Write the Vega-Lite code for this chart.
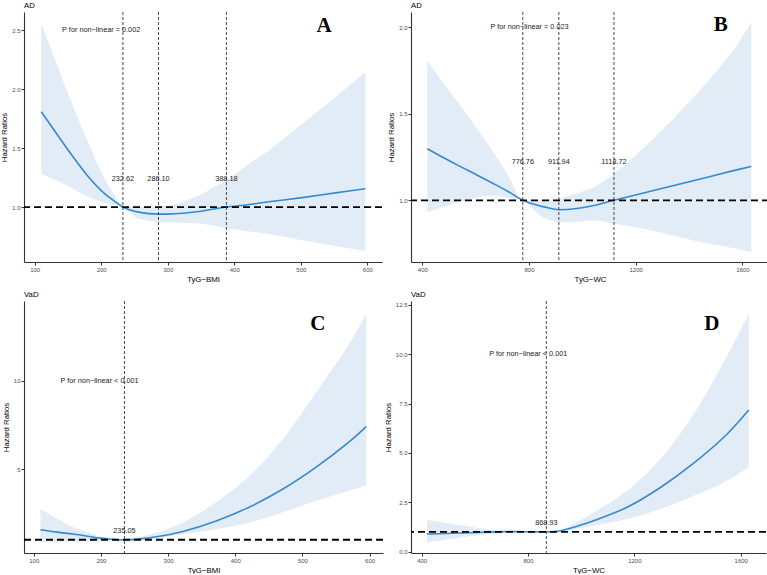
{
  "$schema": "https://vega.github.io/schema/vega-lite/v6.json",
  "background": "white",
  "padding": {"left": 0, "top": 1, "right": 0, "bottom": 0},
  "config": {
    "view": {"stroke": null},
    "font": "Liberation Sans",
    "axis": {
      "grid": false,
      "domainColor": "#333333",
      "domainWidth": 1.1,
      "tickColor": "#333333",
      "tickSize": 3,
      "labelFont": "Liberation Sans",
      "titleFont": "Liberation Sans",
      "labelFontSize": 6,
      "labelColor": "#4d4d4d",
      "labelPadding": 1,
      "titleFontSize": 7.8,
      "titleFontWeight": "normal",
      "titleColor": "black",
      "titlePadding": 3
    },
    "title": {"anchor": "start", "frame": "group", "fontSize": 7.8, "fontWeight": "normal", "font": "Liberation Sans", "offset": 2, "color": "black"}
  },
  "datasets": {
    "A": [
      {"x": 110, "hr": 1.81, "lo": 1.28, "hi": 2.56},
      {"x": 131, "hr": 1.64, "lo": 1.23, "hi": 2.25},
      {"x": 156, "hr": 1.44, "lo": 1.16, "hi": 1.88},
      {"x": 181, "hr": 1.255, "lo": 1.085, "hi": 1.54},
      {"x": 206, "hr": 1.11, "lo": 1.035, "hi": 1.23},
      {"x": 220, "hr": 1.05, "lo": 1.015, "hi": 1.1},
      {"x": 232.62, "hr": 1.0, "lo": 1.0, "hi": 1.0},
      {"x": 256, "hr": 0.957, "lo": 0.9, "hi": 1.0},
      {"x": 286.1, "hr": 0.94, "lo": 0.873, "hi": 1.005},
      {"x": 306, "hr": 0.942, "lo": 0.87, "hi": 1.015},
      {"x": 330, "hr": 0.952, "lo": 0.865, "hi": 1.06},
      {"x": 352, "hr": 0.966, "lo": 0.858, "hi": 1.113},
      {"x": 370, "hr": 0.984, "lo": 0.84, "hi": 1.17},
      {"x": 388.18, "hr": 1.0, "lo": 0.82, "hi": 1.227},
      {"x": 420, "hr": 1.02, "lo": 0.795, "hi": 1.36},
      {"x": 452, "hr": 1.045, "lo": 0.77, "hi": 1.48},
      {"x": 502, "hr": 1.08, "lo": 0.717, "hi": 1.708},
      {"x": 552, "hr": 1.12, "lo": 0.67, "hi": 1.935},
      {"x": 597, "hr": 1.156, "lo": 0.626, "hi": 2.147}
    ],
    "B": [
      {"x": 418.8, "hr": 1.298, "lo": 0.929, "hi": 1.808},
      {"x": 475, "hr": 1.25, "lo": 0.961, "hi": 1.683},
      {"x": 537.6, "hr": 1.199, "lo": 0.99, "hi": 1.557},
      {"x": 600, "hr": 1.15, "lo": 1.015, "hi": 1.423},
      {"x": 662.5, "hr": 1.1, "lo": 1.027, "hi": 1.288},
      {"x": 725, "hr": 1.048, "lo": 1.015, "hi": 1.134},
      {"x": 776.76, "hr": 1.0, "lo": 1.0, "hi": 1.0},
      {"x": 850, "hr": 0.965, "lo": 0.904, "hi": 1.0},
      {"x": 911.94, "hr": 0.946, "lo": 0.875, "hi": 1.01},
      {"x": 980, "hr": 0.953, "lo": 0.875, "hi": 1.04},
      {"x": 1044, "hr": 0.97, "lo": 0.885, "hi": 1.077},
      {"x": 1118.72, "hr": 1.0, "lo": 0.865, "hi": 1.154},
      {"x": 1234, "hr": 1.044, "lo": 0.835, "hi": 1.308},
      {"x": 1359, "hr": 1.091, "lo": 0.79, "hi": 1.5},
      {"x": 1484, "hr": 1.139, "lo": 0.746, "hi": 1.711},
      {"x": 1563, "hr": 1.17, "lo": 0.725, "hi": 1.86},
      {"x": 1633.7, "hr": 1.196, "lo": 0.702, "hi": 2.029}
    ],
    "C": [
      {"x": 110, "hr": 1.566, "lo": 0.85, "hi": 2.74},
      {"x": 135, "hr": 1.43, "lo": 0.88, "hi": 2.2},
      {"x": 158.6, "hr": 1.32, "lo": 0.91, "hi": 1.7},
      {"x": 180, "hr": 1.2, "lo": 0.94, "hi": 1.42},
      {"x": 198, "hr": 1.09, "lo": 0.97, "hi": 1.2},
      {"x": 215, "hr": 1.03, "lo": 0.985, "hi": 1.08},
      {"x": 235.05, "hr": 1.0, "lo": 1.0, "hi": 1.0},
      {"x": 258, "hr": 1.05, "lo": 0.98, "hi": 1.16},
      {"x": 282.5, "hr": 1.17, "lo": 1.05, "hi": 1.4},
      {"x": 322, "hr": 1.47, "lo": 1.32, "hi": 1.98},
      {"x": 371.7, "hr": 2.06, "lo": 1.6, "hi": 3.12},
      {"x": 421.4, "hr": 2.855, "lo": 1.98, "hi": 4.62},
      {"x": 471, "hr": 3.87, "lo": 2.55, "hi": 6.7},
      {"x": 520.5, "hr": 5.11, "lo": 3.2, "hi": 9.34},
      {"x": 570, "hr": 6.55, "lo": 3.77, "hi": 12.1},
      {"x": 595, "hr": 7.4, "lo": 4.06, "hi": 13.77}
    ],
    "D": [
      {"x": 420.7, "hr": 0.896, "lo": 0.475, "hi": 1.6},
      {"x": 490, "hr": 0.92, "lo": 0.6, "hi": 1.45},
      {"x": 553, "hr": 0.95, "lo": 0.73, "hi": 1.32},
      {"x": 610, "hr": 0.975, "lo": 0.82, "hi": 1.2},
      {"x": 663, "hr": 1.0, "lo": 0.9, "hi": 1.1},
      {"x": 725.7, "hr": 1.02, "lo": 0.95, "hi": 1.05},
      {"x": 790, "hr": 1.01, "lo": 0.98, "hi": 1.02},
      {"x": 868.93, "hr": 1.0, "lo": 1.0, "hi": 1.0},
      {"x": 921.5, "hr": 1.06, "lo": 1.02, "hi": 1.1},
      {"x": 984, "hr": 1.29, "lo": 1.16, "hi": 1.5},
      {"x": 1047, "hr": 1.57, "lo": 1.32, "hi": 1.99},
      {"x": 1172.5, "hr": 2.25, "lo": 1.65, "hi": 3.09},
      {"x": 1298, "hr": 3.25, "lo": 2.16, "hi": 4.69},
      {"x": 1423, "hr": 4.48, "lo": 2.83, "hi": 6.97},
      {"x": 1549, "hr": 5.96, "lo": 3.59, "hi": 9.92},
      {"x": 1630, "hr": 7.17, "lo": 4.27, "hi": 12.03}
    ]
  },
  "spacing": 7,
  "vconcat": [
    {
      "spacing": 4,
      "hconcat": [
        {
          "width": 358, "height": 250,
          "title": "AD",
          "layer": [
            {
              "data": {"name": "A"},
              "mark": {"type": "area", "color": "#e2ecf7", "interpolate": "monotone"},
              "encoding": {
                "x": {"field": "x", "type": "quantitative", "scale": {"domain": [84, 622], "nice": false, "zero": false}, "axis": {"title": "TyG−BMI", "values": [100, 200, 300, 400, 500, 600], "format": "d"}},
                "y": {"field": "lo", "type": "quantitative", "scale": {"domain": [0.533, 2.657], "nice": false, "zero": false}, "axis": {"title": "Hazard Ratios", "values": [1, 1.5, 2, 2.5], "format": ".1f"}},
                "y2": {"field": "hi"}
              }
            },
            {
              "data": {"name": "A"},
              "mark": {"type": "line", "color": "#3489cf", "strokeWidth": 1.6, "interpolate": "monotone"},
              "encoding": {"x": {"field": "x", "type": "quantitative"}, "y": {"field": "hr", "type": "quantitative"}}
            },
            {
              "data": {"values": [{}]},
              "mark": {"type": "rule", "color": "black", "strokeWidth": 1.8, "strokeDash": [7, 4]},
              "encoding": {"y": {"datum": 1}}
            },
            {
              "data": {"values": [{"x": 232.62, "label": "232.62"}, {"x": 286.10, "label": "286.10"}, {"x": 388.18, "label": "388.18"}]},
              "layer": [
                {"mark": {"type": "rule", "color": "#333333", "strokeWidth": 0.9, "strokeDash": [3, 2]}, "encoding": {"x": {"field": "x", "type": "quantitative"}}},
                {"mark": {"type": "text", "fontSize": 7.3, "color": "#222222"}, "encoding": {"x": {"field": "x", "type": "quantitative"}, "y": {"datum": 1.24}, "text": {"field": "label"}}}
              ]
            },
            {
              "data": {"values": [{"t": "P for non−linear = 0.002"}]},
              "mark": {"type": "text", "fontSize": 7.3, "color": "#222222"},
              "encoding": {"x": {"datum": 200}, "y": {"datum": 2.5}, "text": {"field": "t"}}
            },
            {
              "data": {"values": [{"t": "A"}]},
              "mark": {"type": "text", "fontSize": 21, "font": "Liberation Serif", "fontWeight": "bold", "color": "black"},
              "encoding": {"x": {"datum": 535}, "y": {"datum": 2.54}, "text": {"field": "t"}}
            }
          ]
        },
        {
          "width": 358, "height": 250,
          "title": "AD",
          "layer": [
            {
              "data": {"name": "B"},
              "mark": {"type": "area", "color": "#e2ecf7", "interpolate": "monotone"},
              "encoding": {
                "x": {"field": "x", "type": "quantitative", "scale": {"domain": [357.6, 1700], "nice": false, "zero": false}, "axis": {"title": "TyG−WC", "values": [400, 800, 1200, 1600], "format": "d"}},
                "y": {"field": "lo", "type": "quantitative", "scale": {"domain": [0.644, 2.087], "nice": false, "zero": false}, "axis": {"title": "Hazard Ratios", "values": [1, 1.5, 2], "format": ".1f"}},
                "y2": {"field": "hi"}
              }
            },
            {
              "data": {"name": "B"},
              "mark": {"type": "line", "color": "#3489cf", "strokeWidth": 1.6, "interpolate": "monotone"},
              "encoding": {"x": {"field": "x", "type": "quantitative"}, "y": {"field": "hr", "type": "quantitative"}}
            },
            {
              "data": {"values": [{}]},
              "mark": {"type": "rule", "color": "black", "strokeWidth": 1.8, "strokeDash": [7, 4]},
              "encoding": {"y": {"datum": 1}}
            },
            {
              "data": {"values": [{"x": 776.76, "label": "776.76"}, {"x": 911.94, "label": "911.94"}, {"x": 1118.72, "label": "1118.72"}]},
              "layer": [
                {"mark": {"type": "rule", "color": "#333333", "strokeWidth": 0.9, "strokeDash": [3, 2]}, "encoding": {"x": {"field": "x", "type": "quantitative"}}},
                {"mark": {"type": "text", "fontSize": 7.3, "color": "#222222"}, "encoding": {"x": {"field": "x", "type": "quantitative"}, "y": {"datum": 1.221}, "text": {"field": "label"}}}
              ]
            },
            {
              "data": {"values": [{"t": "P for non−linear = 0.023"}]},
              "mark": {"type": "text", "fontSize": 7.3, "color": "#222222"},
              "encoding": {"x": {"datum": 802}, "y": {"datum": 2.0}, "text": {"field": "t"}}
            },
            {
              "data": {"values": [{"t": "B"}]},
              "mark": {"type": "text", "fontSize": 21, "font": "Liberation Serif", "fontWeight": "bold", "color": "black"},
              "encoding": {"x": {"datum": 1519}, "y": {"datum": 2.01}, "text": {"field": "t"}}
            }
          ]
        }
      ]
    },
    {
      "spacing": 0,
      "hconcat": [
        {
          "width": 359, "height": 252,
          "title": "VaD",
          "layer": [
            {
              "data": {"name": "C"},
              "mark": {"type": "area", "color": "#e2ecf7", "interpolate": "catmull-rom"},
              "encoding": {
                "x": {"field": "x", "type": "quantitative", "scale": {"domain": [85.5, 620], "nice": false, "zero": false}, "axis": {"title": "TyG−BMI", "values": [100, 200, 300, 400, 500, 600], "format": "d"}},
                "y": {"field": "lo", "type": "quantitative", "scale": {"domain": [0.25, 14.5], "nice": false, "zero": false}, "axis": {"title": "Hazard Ratios", "values": [5, 10], "format": "d"}},
                "y2": {"field": "hi"}
              }
            },
            {
              "data": {"name": "C"},
              "mark": {"type": "line", "color": "#3489cf", "strokeWidth": 1.6, "interpolate": "catmull-rom"},
              "encoding": {"x": {"field": "x", "type": "quantitative"}, "y": {"field": "hr", "type": "quantitative"}}
            },
            {
              "data": {"values": [{}]},
              "mark": {"type": "rule", "color": "black", "strokeWidth": 1.8, "strokeDash": [7, 4]},
              "encoding": {"y": {"datum": 1}}
            },
            {
              "data": {"values": [{"x": 235.05, "label": "235.05"}]},
              "layer": [
                {"mark": {"type": "rule", "color": "#333333", "strokeWidth": 0.9, "strokeDash": [3, 2]}, "encoding": {"x": {"field": "x", "type": "quantitative"}}},
                {"mark": {"type": "text", "fontSize": 7.3, "color": "#222222"}, "encoding": {"x": {"field": "x", "type": "quantitative"}, "y": {"datum": 1.47}, "text": {"field": "label"}}}
              ]
            },
            {
              "data": {"values": [{"t": "P for non−linear < 0.001"}]},
              "mark": {"type": "text", "fontSize": 7.3, "color": "#222222"},
              "encoding": {"x": {"datum": 198}, "y": {"datum": 10}, "text": {"field": "t"}}
            },
            {
              "data": {"values": [{"t": "C"}]},
              "mark": {"type": "text", "fontSize": 21, "font": "Liberation Serif", "fontWeight": "bold", "color": "black"},
              "encoding": {"x": {"datum": 523}, "y": {"datum": 13.2}, "text": {"field": "t"}}
            }
          ]
        },
        {
          "width": 355, "height": 252,
          "title": "VaD",
          "layer": [
            {
              "data": {"name": "D"},
              "mark": {"type": "area", "color": "#e2ecf7", "interpolate": "catmull-rom"},
              "encoding": {
                "x": {"field": "x", "type": "quantitative", "scale": {"domain": [360, 1695], "nice": false, "zero": false}, "axis": {"title": "TyG−WC", "values": [400, 800, 1200, 1600], "format": "d"}},
                "y": {"field": "lo", "type": "quantitative", "scale": {"domain": [-0.066, 12.69], "nice": false, "zero": false}, "axis": {"title": "Hazard Ratios", "values": [0, 2.5, 5, 7.5, 10, 12.5], "format": ".1f"}},
                "y2": {"field": "hi"}
              }
            },
            {
              "data": {"name": "D"},
              "mark": {"type": "line", "color": "#3489cf", "strokeWidth": 1.6, "interpolate": "catmull-rom"},
              "encoding": {"x": {"field": "x", "type": "quantitative"}, "y": {"field": "hr", "type": "quantitative"}}
            },
            {
              "data": {"values": [{}]},
              "mark": {"type": "rule", "color": "black", "strokeWidth": 1.8, "strokeDash": [7, 4]},
              "encoding": {"y": {"datum": 1}}
            },
            {
              "data": {"values": [{"x": 868.93, "label": "868.93"}]},
              "layer": [
                {"mark": {"type": "rule", "color": "#333333", "strokeWidth": 0.9, "strokeDash": [3, 2]}, "encoding": {"x": {"field": "x", "type": "quantitative"}}},
                {"mark": {"type": "text", "fontSize": 7.3, "color": "#222222"}, "encoding": {"x": {"field": "x", "type": "quantitative"}, "y": {"datum": 1.44}, "text": {"field": "label"}}}
              ]
            },
            {
              "data": {"values": [{"t": "P for non−linear < 0.001"}]},
              "mark": {"type": "text", "fontSize": 7.3, "color": "#222222"},
              "encoding": {"x": {"datum": 801}, "y": {"datum": 10}, "text": {"field": "t"}}
            },
            {
              "data": {"values": [{"t": "D"}]},
              "mark": {"type": "text", "fontSize": 21, "font": "Liberation Serif", "fontWeight": "bold", "color": "black"},
              "encoding": {"x": {"datum": 1491}, "y": {"datum": 11.52}, "text": {"field": "t"}}
            }
          ]
        }
      ]
    }
  ]
}
